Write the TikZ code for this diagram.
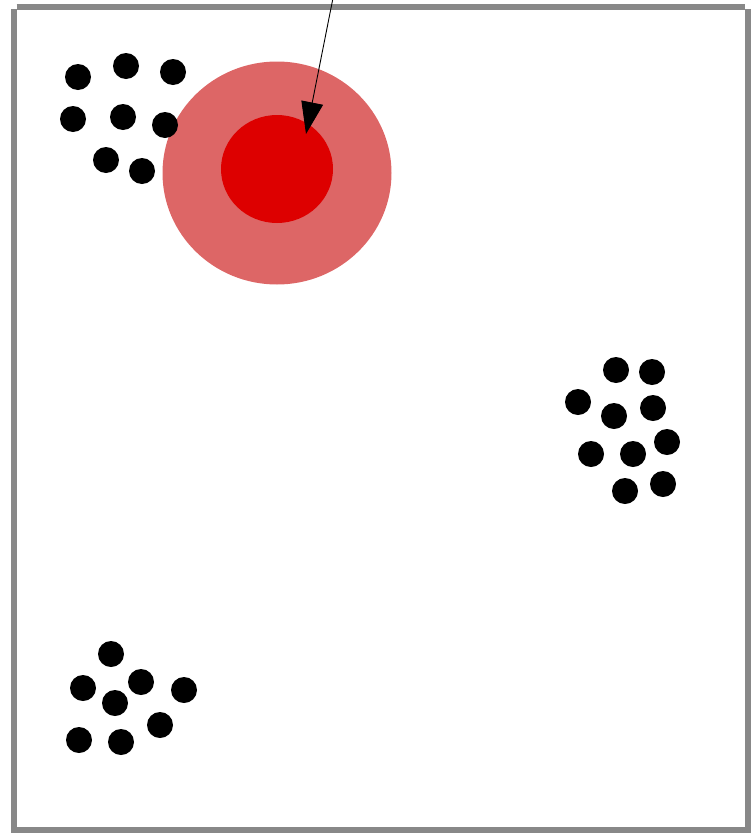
\documentclass[tikz,border=0pt]{standalone}
\usetikzlibrary{arrows.meta}
\definecolor{outerred}{HTML}{DD6666}
\definecolor{innerred}{HTML}{DD0000}
\definecolor{framegray}{HTML}{888888}
\tikzset{
  frameline/.style={draw=framegray, line width=6pt},
  dot/.style={fill=black},
  pointer/.style={draw=black, line width=0.9pt, -{Triangle[length=32pt,width=22pt]}}
}
\begin{document}
\begin{tikzpicture}[x=1pt,y=-1pt]
\useasboundingbox (0,0) rectangle (755,833);
% frame
\draw[frameline] (13.5,9) -- (13.5,833);
\draw[frameline] (16.5,7) -- (745,7);
\draw[frameline] (748,9) -- (748,833);
\draw[frameline] (16.5,830) -- (745,830);
% target
\fill[outerred] (277,173) ellipse [x radius=114.5, y radius=111.5];
\fill[innerred] (277,169) ellipse [x radius=56, y radius=54];
% dots top-left
\foreach \p in {(78,77),(126,66),(173,72),(73,119),(123,117),(165,125),(106,160),(142,171)}
  \fill[dot] \p circle (13);
% dots right
\foreach \p in {(616,370),(652,372),(578,402),(614,416),(653,408),(667,442),(591,454),(633,454),(625,491),(663,484)}
  \fill[dot] \p circle (13);
% dots bottom-left
\foreach \p in {(111,654),(83,688),(141,682),(115,703),(184,690),(79,740),(121,742),(160,725)}
  \fill[dot] \p circle (13);
% arrow
\coordinate (start) at (333,-2);
\coordinate (tip) at (306,134);
\draw[pointer] (start) -- (tip);
\end{tikzpicture}
\end{document}
